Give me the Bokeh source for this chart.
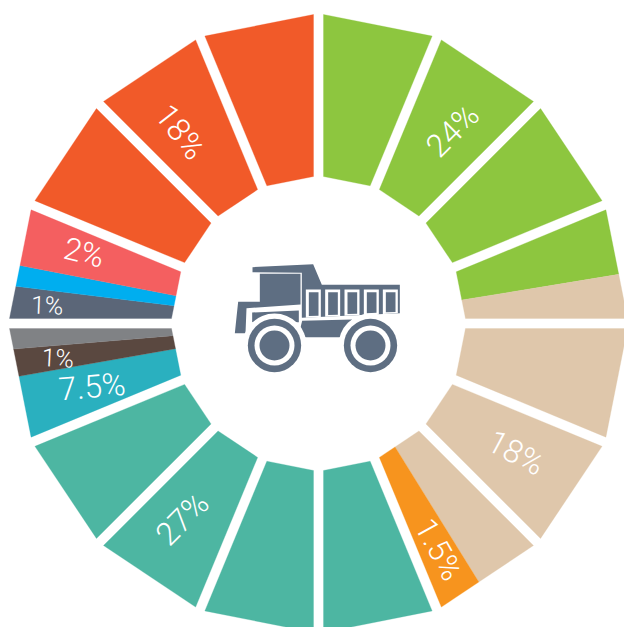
import math
from bokeh.plotting import figure
from bokeh.models import ColumnDataSource
from bokeh.embed import file_html
from bokeh.resources import INLINE
from bokeh.core.properties import value

# ring segments: angular extent (degrees clockwise from top) and colour
seg_names = ["green", "tan", "orange", "teal", "cyan", "brown", "gray", "slate", "blue", "red", "redorange"]
seg_extent = [80.7, 67.5, 9.3, 90.0, 12.5, 5.2, 4.8, 7.0, 4.0, 11.5, 67.5]
seg_colors = ["#8DC63F", "#DFC7AB", "#F7941E", "#4DB6A2", "#2AB0BF", "#5A4840", "#808285",
              "#5B6678", "#00AEEF", "#F45F60", "#F15A29"]

# percent labels: text, angle around the ring, radius, rotation, size
label_text = ["24%", "18%", "1.5%", "27%", "7.5%", "1%", "1%", "2%", "18%"]
label_theta = [34.8, 123.2, 152.0, 214.9, 254.4, 262.4, 273.8, 286.8, 324.2]
label_radius = [235, 236, 256, 238, 235, 263, 272, 245, 236]
label_rot = [45, -28, -61, 45, 5, -3, -2, -14, -52]
label_size = [32, 32, 31, 32, 32, 25, 25, 31, 32]

CX, CY = 318.0, 323.0
R_OUT, R_IN = 310.0, 148.0
GAP = 10.0
N = 16
STEP = 360.0 / N
ICON = "#5E6E82"


def pol(r, th):
    t = math.radians(th)
    return (CX + r * math.sin(t), CY - r * math.cos(t))


def clip(poly, th, keep_cw, off=0.0):
    t = math.radians(th)
    d = (math.sin(t), -math.cos(t))
    n = (-d[1], d[0])  # clockwise normal in screen coords
    if not keep_cw:
        n = (-n[0], -n[1])
    f = lambda q: (q[0] - CX) * n[0] + (q[1] - CY) * n[1] - off
    out = []
    for i, a in enumerate(poly):
        b = poly[(i + 1) % len(poly)]
        fa, fb = f(a), f(b)
        if fa >= 0:
            out.append(a)
        if fa * fb < 0:
            s = fa / (fa - fb)
            out.append((a[0] + s * (b[0] - a[0]), a[1] + s * (b[1] - a[1])))
    return out


xs, ys, cols = [], [], []
start = 0.0
for ext, col in zip(seg_extent, seg_colors):
    end = start + ext
    for k in range(N):
        a, b = k * STEP, (k + 1) * STEP
        lo, hi = max(a, start), min(b, end)
        if hi <= lo + 1e-6:
            continue
        poly = [pol(R_IN, a), pol(R_OUT, a), pol(R_OUT, b), pol(R_IN, b)]
        poly = clip(poly, a, True, GAP / 2)
        poly = clip(poly, b, False, GAP / 2)
        if lo > a:
            poly = clip(poly, lo, True)
        if hi < b:
            poly = clip(poly, hi, False)
        xs.append([q[0] for q in poly])
        ys.append([q[1] for q in poly])
        cols.append(col)
    start = end

p = figure(width=624, height=627, x_range=(0, 624), y_range=(627, 0),
           output_backend="svg", toolbar_location=None, min_border=0,
           background_fill_color="white", border_fill_color="white")
p.axis.visible = False
p.grid.visible = False
p.outline_line_color = None

p.patches(xs, ys, fill_color=cols, line_color=cols, line_width=0.3)

lx = [pol(r, t)[0] for r, t in zip(label_radius, label_theta)]
ly = [pol(r, t)[1] for r, t in zip(label_radius, label_theta)]
p.text(x="x", y="y", text="t", angle="a", text_font_size="s", text_color="white",
       text_align="center", text_baseline="middle", text_font=value("Roboto Light"),
       source=ColumnDataSource(dict(x=lx, y=ly, t=label_text,
                                    a=[math.radians(v) for v in label_rot],
                                    s=[f"{v}px" for v in label_size])))

# truck icon, in its own drawing units
TX, TY, TS = 200.0, 240.0, 1 / 3


def tp(points):
    return [TX + q[0] * TS for q in points], [TY + q[1] * TS for q in points]


body_shapes = [
    [(156, 80), (338, 71), (364, 133), (598, 133), (598, 218), (304, 232), (304, 97), (156, 95)],
    [(113, 184), (178, 184), (178, 100), (300, 100), (300, 192), (138, 203), (135, 278), (103, 278), (108, 230)],
    [(155, 216), (295, 210), (295, 245), (155, 245)],
    [(305, 241), (455, 237), (418, 290), (315, 290), (300, 262)],
]
for s in body_shapes:
    bx, by = tp(s)
    p.patch(bx, by, fill_color=ICON, line_color=None)

slat_left = [316, 374, 432, 490, 547]
for sl in slat_left:
    bot = 232 - (sl - 304) * 0.048
    bx, by = tp([(sl, 147), (sl + 45, 147), (sl + 45, bot - 2), (sl, bot)])
    p.patch(bx, by, fill_color="white", line_color=None)
    bx, by = tp([(sl + 9, 155), (sl + 38, 155), (sl + 38, bot - 6), (sl + 9, bot - 5)])
    p.patch(bx, by, fill_color=ICON, line_color=None)

wheel_x = [222, 510]
wheel_y = 315
for wx in wheel_x:
    for r, c in [(96, "white"), (80, ICON), (60, "white"), (45, ICON)]:
        cx, cy = tp([(wx, wheel_y)])
        p.circle(cx, cy, radius=r * TS, fill_color=c, line_color=None)

open("out.html", "w").write(file_html(p, INLINE))
